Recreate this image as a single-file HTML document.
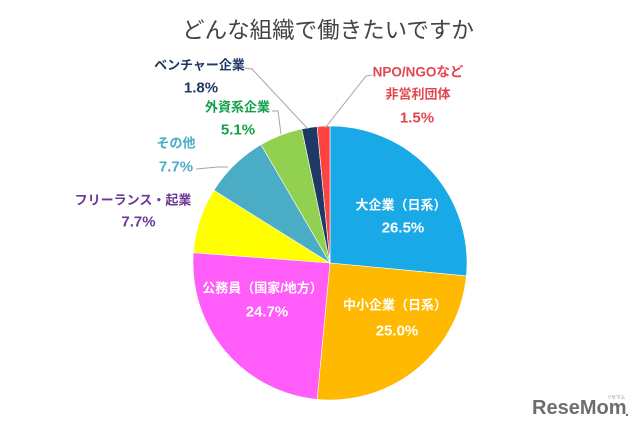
<!DOCTYPE html>
<html>
<head>
<meta charset="utf-8">
<style>
  html,body{margin:0;padding:0;background:#fff;}
  svg{display:block;}
  text{font-family:"Liberation Sans","Noto Sans CJK JP",sans-serif;}
</style>
</head>
<body>
<svg width="640" height="434" viewBox="0 0 640 434" xmlns="http://www.w3.org/2000/svg">
  <rect x="0" y="0" width="640" height="434" fill="#ffffff"/>

  <!-- Title -->
  <text x="328" y="30.5" font-size="22.5" fill="#444444" text-anchor="middle" dominant-baseline="central">どんな組織で働きたいですか</text>

  <!-- Pie -->
  <g stroke="#ffffff" stroke-width="0.6" stroke-linejoin="round">
    <path d="M330,263 L330,126 A137,137 0 0 1 466.39,275.89 Z" fill="#19A9E6"/>
    <path d="M330,263 L466.39,275.89 A137,137 0 0 1 317.11,399.39 Z" fill="#FFB900"/>
    <path d="M330,263 L317.11,399.39 A137,137 0 0 1 193.39,252.68 Z" fill="#FF5CFA"/>
    <path d="M330,263 L193.39,252.68 A137,137 0 0 1 213.88,190.30 Z" fill="#FFFF00"/>
    <path d="M330,263 L213.88,190.30 A137,137 0 0 1 261.00,144.64 Z" fill="#4BACC6"/>
    <path d="M330,263 L261.00,144.64 A137,137 0 0 1 301.80,128.93 Z" fill="#92D050"/>
    <path d="M330,263 L301.80,128.93 A137,137 0 0 1 317.11,126.61 Z" fill="#1F3864"/>
    <path d="M330,263 L317.11,126.61 A137,137 0 0 1 330,126 Z" fill="#FF4343"/>
  </g>

  <!-- Leader lines -->
  <g stroke="#A6A6A6" stroke-width="1" fill="none">
    <polyline points="196,169 218,167 228,167"/>
    <polyline points="272,111 278,111 281,134"/>
    <polyline points="245,68 252,69 308,129"/>
    <polyline points="372,75 366,76 325,128"/>
  </g>

  <!-- Outside labels -->
  <g font-weight="bold" text-anchor="middle" dominant-baseline="central">
    <text x="199.5" y="65" font-size="13" fill="#1F3864">ベンチャー企業</text>
    <text x="201" y="88" font-size="15" fill="#1F3864">1.8%</text>

    <text x="418" y="72" font-size="13.5" fill="#E2474D">NPO/NGOなど</text>
    <text x="418" y="94" font-size="13" fill="#E2474D">非営利団体</text>
    <text x="417" y="118" font-size="15" fill="#E2474D">1.5%</text>

    <text x="237.5" y="107" font-size="13" fill="#14A04A">外資系企業</text>
    <text x="238" y="130" font-size="15" fill="#14A04A">5.1%</text>

    <text x="176" y="143" font-size="13" fill="#4BACC6">その他</text>
    <text x="176" y="167" font-size="15" fill="#4BACC6">7.7%</text>

    <text x="133" y="200" font-size="13" fill="#6B3A96">フリーランス・起業</text>
    <text x="138.5" y="222" font-size="15" fill="#6B3A96">7.7%</text>
  </g>

  <!-- Inside labels -->
  <g font-weight="bold" text-anchor="middle" dominant-baseline="central" fill="#ffffff">
    <text x="401" y="205" font-size="13">大企業（日系）</text>
    <text x="403" y="228" font-size="15">26.5%</text>

    <text x="262.5" y="288" font-size="13">公務員（国家/地方）</text>
    <text x="267" y="312" font-size="15">24.7%</text>

    <text x="395" y="305" font-size="13">中小企業（日系）</text>
    <text x="397" y="331" font-size="15">25.0%</text>
  </g>

  <!-- Logo -->
  <text x="532" y="408" font-size="20" font-weight="bold" fill="#6E6E6E" dominant-baseline="central">ReseMom</text>
  <text x="616" y="397" font-size="4.5" fill="#8A8A8A" text-anchor="middle" dominant-baseline="central">リセマム</text>
  <circle cx="627" cy="415" r="1.2" fill="#6E6E6E"/>
</svg>
</body>
</html>
